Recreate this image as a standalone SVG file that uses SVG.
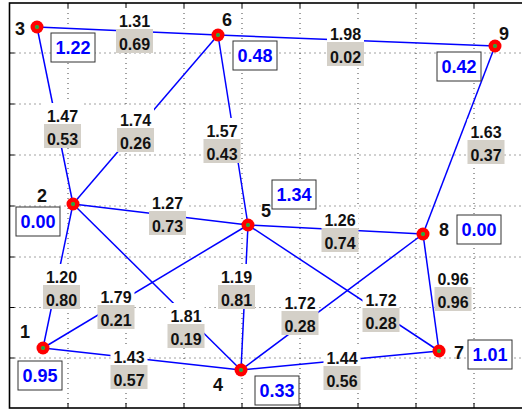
<svg xmlns="http://www.w3.org/2000/svg" width="522" height="410" viewBox="0 0 522 410">
<style>
.grid{stroke:#444;stroke-width:1;stroke-dasharray:1,4;fill:none}
.tick{stroke:#000;stroke-width:1}
.edge{stroke:#0000ff;stroke-width:1.5;fill:none}
.wb{fill:#fff}
.gb{fill:#d4d0c8}
.lt{font-family:"Liberation Sans",Arial,sans-serif;font-weight:bold;font-size:16px;fill:#111;text-anchor:middle}
.nn{font-family:"Liberation Sans",Arial,sans-serif;font-weight:bold;font-size:18px;fill:#111;text-anchor:middle}
.vb{fill:#fff;stroke:#333;stroke-width:1}
.vt{font-family:"Liberation Sans",Arial,sans-serif;font-weight:bold;font-size:18px;fill:#0000ff;text-anchor:middle}
.nr{fill:#ff0000}
.ng{fill:#22cc22}
.nc{fill:#2222ff}
</style>
<defs>
<g id="mk"><circle r="6.5" class="nr"/><circle r="2" class="ng"/><circle r="0.7" class="nc"/></g>
</defs>
<rect x="0" y="0" width="522" height="410" fill="#fff"/>
<g id="grid">
<path class="grid" d="M68 3V408M126 3V408M184 3V408M242 3V408M300 3V408M358 3V408M416 3V408M474 3V408"/>
<path class="grid" d="M9.5 53H522M9.5 104H522M9.5 155H522M9.5 206H522M9.5 257H522M9.5 307.5H522M9.5 358H522"/>
<path class="tick" d="M68 3v5M126 3v5M184 3v5M242 3v5M300 3v5M358 3v5M416 3v5M474 3v5M68 408v-5M126 408v-5M184 408v-5M242 408v-5M300 408v-5M358 408v-5M416 408v-5M474 408v-5M9.5 53h5M9.5 104h5M9.5 155h5M9.5 206h5M9.5 257h5M9.5 307.5h5M9.5 358h5"/>
<rect x="9.5" y="3" width="540" height="405" fill="none" stroke="#000" stroke-width="1.6"/>
</g>
<g id="connectors">
<line class="edge" x1="37" y1="27" x2="218" y2="35"/>
<line class="edge" x1="218" y1="35" x2="495" y2="46"/>
<line class="edge" x1="37" y1="27" x2="73" y2="204"/>
<line class="edge" x1="73" y1="204" x2="218" y2="35"/>
<line class="edge" x1="218" y1="35" x2="248" y2="225"/>
<line class="edge" x1="495" y1="46" x2="423" y2="234"/>
<line class="edge" x1="73" y1="204" x2="248" y2="225"/>
<line class="edge" x1="248" y1="225" x2="423" y2="234"/>
<line class="edge" x1="73" y1="204" x2="43" y2="348"/>
<line class="edge" x1="43" y1="348" x2="248" y2="225"/>
<line class="edge" x1="73" y1="204" x2="241" y2="370"/>
<line class="edge" x1="248" y1="225" x2="241" y2="370"/>
<line class="edge" x1="43" y1="348" x2="241" y2="370"/>
<line class="edge" x1="241" y1="370" x2="423" y2="234"/>
<line class="edge" x1="248" y1="225" x2="439" y2="351"/>
<line class="edge" x1="423" y1="234" x2="439" y2="351"/>
<line class="edge" x1="241" y1="370" x2="439" y2="351"/>
</g>
<g id="edge-labels">
<g id="l36"><rect class="wb" x="116" y="8" width="37" height="21"/><rect class="gb" x="116" y="29" width="37" height="24"/><text class="lt" x="134.5" y="27">1.31</text><text class="lt" x="134.5" y="49.5">0.69</text></g>
<g id="l69"><rect class="wb" x="327" y="21" width="37" height="21"/><rect class="gb" x="327" y="42" width="37" height="24"/><text class="lt" x="345.5" y="40">1.98</text><text class="lt" x="345.5" y="62.5">0.02</text></g>
<g id="l32"><rect class="wb" x="44" y="103" width="37" height="21"/><rect class="gb" x="44" y="124" width="37" height="24"/><text class="lt" x="62.5" y="122">1.47</text><text class="lt" x="62.5" y="144.5">0.53</text></g>
<g id="l26"><rect class="wb" x="117" y="107" width="37" height="21"/><rect class="gb" x="117" y="128" width="37" height="24"/><text class="lt" x="135.5" y="126">1.74</text><text class="lt" x="135.5" y="148.5">0.26</text></g>
<g id="l65"><rect class="wb" x="203.5" y="118" width="37" height="21"/><rect class="gb" x="203.5" y="139" width="37" height="24"/><text class="lt" x="222" y="137">1.57</text><text class="lt" x="222" y="159.5">0.43</text></g>
<g id="l98"><rect class="wb" x="467.5" y="119" width="37" height="21"/><rect class="gb" x="467.5" y="140" width="37" height="24"/><text class="lt" x="486" y="138">1.63</text><text class="lt" x="486" y="160.5">0.37</text></g>
<g id="l25"><rect class="wb" x="149" y="190" width="37" height="21"/><rect class="gb" x="149" y="211" width="37" height="24"/><text class="lt" x="167.5" y="209">1.27</text><text class="lt" x="167.5" y="231.5">0.73</text></g>
<g id="l58"><rect class="wb" x="321.5" y="207" width="37" height="21"/><rect class="gb" x="321.5" y="228" width="37" height="24"/><text class="lt" x="340" y="226">1.26</text><text class="lt" x="340" y="248.5">0.74</text></g>
<g id="l21"><rect class="wb" x="43" y="264" width="37" height="21"/><rect class="gb" x="43" y="285" width="37" height="24"/><text class="lt" x="61.5" y="283">1.20</text><text class="lt" x="61.5" y="305.5">0.80</text></g>
<g id="l15"><rect class="wb" x="97.5" y="284" width="37" height="21"/><rect class="gb" x="97.5" y="305" width="37" height="24"/><text class="lt" x="116" y="303">1.79</text><text class="lt" x="116" y="325.5">0.21</text></g>
<g id="l24"><rect class="wb" x="167.5" y="303" width="37" height="21"/><rect class="gb" x="167.5" y="324" width="37" height="24"/><text class="lt" x="186" y="322">1.81</text><text class="lt" x="186" y="344.5">0.19</text></g>
<g id="l54"><rect class="wb" x="218" y="264" width="37" height="21"/><rect class="gb" x="218" y="285" width="37" height="24"/><text class="lt" x="236.5" y="283">1.19</text><text class="lt" x="236.5" y="305.5">0.81</text></g>
<g id="l14"><rect class="wb" x="110.5" y="344" width="37" height="21"/><rect class="gb" x="110.5" y="365" width="37" height="24"/><text class="lt" x="129" y="363">1.43</text><text class="lt" x="129" y="385.5">0.57</text></g>
<g id="l48"><rect class="wb" x="281.5" y="290" width="37" height="21"/><rect class="gb" x="281.5" y="311" width="37" height="24"/><text class="lt" x="300" y="309">1.72</text><text class="lt" x="300" y="331.5">0.28</text></g>
<g id="l57"><rect class="wb" x="362.5" y="287" width="37" height="21"/><rect class="gb" x="362.5" y="308" width="37" height="24"/><text class="lt" x="381" y="306">1.72</text><text class="lt" x="381" y="328.5">0.28</text></g>
<g id="l87"><rect class="wb" x="434.5" y="266" width="37" height="21"/><rect class="gb" x="434.5" y="287" width="37" height="24"/><text class="lt" x="453" y="285">0.96</text><text class="lt" x="453" y="307.5">0.96</text></g>
<g id="l47"><rect class="wb" x="323.5" y="345" width="37" height="21"/><rect class="gb" x="323.5" y="366" width="37" height="24"/><text class="lt" x="342" y="364">1.44</text><text class="lt" x="342" y="386.5">0.56</text></g>
</g>
<g id="node1"><use href="#mk" x="43" y="348"/><text class="nn" x="25" y="338">1</text><rect class="vb" x="18" y="361" width="44" height="29"/><text class="vt" x="40" y="382">0.95</text></g>
<g id="node2"><use href="#mk" x="73" y="204"/><text class="nn" x="42" y="202">2</text><rect class="vb" x="16" y="207" width="44" height="29"/><text class="vt" x="38" y="228">0.00</text></g>
<g id="node3"><use href="#mk" x="37" y="27"/><text class="nn" x="20" y="35">3</text><rect class="vb" x="51" y="33" width="44" height="29"/><text class="vt" x="73" y="54">1.22</text></g>
<g id="node4"><use href="#mk" x="241" y="370"/><text class="nn" x="218" y="391">4</text><rect class="vb" x="255" y="376" width="44" height="29"/><text class="vt" x="277" y="397">0.33</text></g>
<g id="node5"><use href="#mk" x="248" y="225"/><text class="nn" x="266" y="217">5</text><rect class="vb" x="272" y="180" width="44" height="29"/><text class="vt" x="294" y="201">1.34</text></g>
<g id="node6"><use href="#mk" x="218" y="35"/><text class="nn" x="227" y="26">6</text><rect class="vb" x="233" y="41" width="44" height="29"/><text class="vt" x="255" y="62">0.48</text></g>
<g id="node7"><use href="#mk" x="439" y="351"/><text class="nn" x="459" y="359">7</text><rect class="vb" x="468" y="340" width="44" height="29"/><text class="vt" x="490" y="361">1.01</text></g>
<g id="node8"><use href="#mk" x="423" y="234"/><text class="nn" x="444" y="236">8</text><rect class="vb" x="457" y="215" width="44" height="29"/><text class="vt" x="479" y="236">0.00</text></g>
<g id="node9"><use href="#mk" x="495" y="46"/><text class="nn" x="504" y="40">9</text><rect class="vb" x="437" y="52" width="44" height="29"/><text class="vt" x="459" y="73">0.42</text></g>
</svg>
